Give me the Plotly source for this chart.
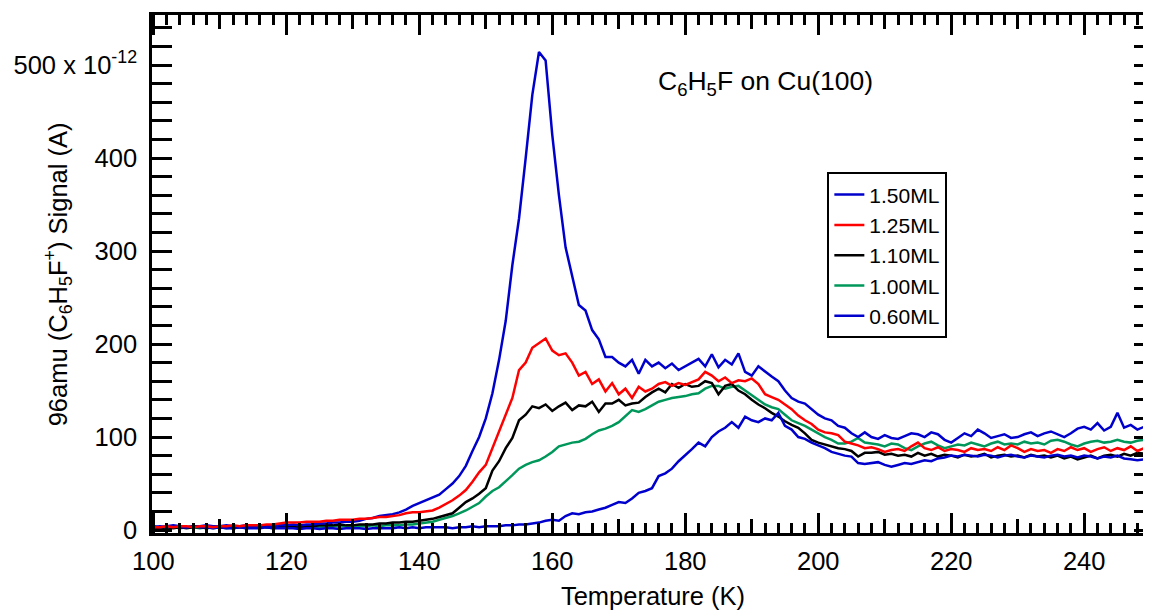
import plotly.graph_objects as go

temperature = list(range(100, 250))

s150 = [4,3,4,5,4,3,4,4,5,4,
        4,5,4,4,5,4,5,5,4,5,
        5,6,5,6,6,7,7,8,8,9,
        9,10,12,13,15,16,17,19,22,26,
        29,32,35,38,44,50,58,69,85,100,
        120,147,183,225,285,335,400,468,514,505,
        425,360,304,273,242,236,215,205,186,186,
        180,176,183,168,183,176,180,174,179,172,
        176,180,184,176,189,175,183,178,190,170,
        166,176,170,165,160,150,142,138,136,130,
        124,120,118,112,110,104,100,105,100,98,
        102,99,98,101,104,103,100,105,103,97,
        94,99,104,101,108,104,99,101,103,99,
        100,103,105,101,104,106,103,100,104,109,
        111,108,115,107,111,126,110,113,108,111]

s125 = [3,3,4,3,4,4,3,4,4,3,
        4,4,5,4,5,5,5,6,6,7,
        8,8,8,9,9,9,10,10,11,11,
        11,12,12,13,14,14,15,16,18,19,
        19,20,21,24,28,32,37,43,52,62,
        70,88,108,125,142,172,180,196,201,206,
        193,188,190,180,166,170,157,162,149,158,
        146,152,142,154,149,152,157,159,155,158,
        156,159,162,170,166,160,164,158,161,160,
        163,157,146,143,140,135,130,123,118,114,
        108,105,104,102,95,93,91,88,89,87,
        84,86,87,85,90,94,88,86,89,85,
        87,86,84,88,86,87,85,89,86,91,
        88,84,87,85,86,83,87,85,89,86,
        88,84,87,89,85,88,86,90,85,88]

s110 = [2,2,3,2,3,2,3,3,2,3,
        3,3,2,3,3,3,4,3,3,4,
        4,4,3,4,4,5,5,5,6,5,
        5,6,6,6,7,7,8,8,9,9,
        10,11,12,14,16,18,24,30,34,39,
        45,64,74,88,99,118,124,133,131,135,
        128,133,137,129,134,133,138,127,136,136,
        140,134,136,137,143,148,152,148,157,153,
        157,154,155,160,158,146,155,157,150,146,
        140,135,131,126,122,117,113,110,104,97,
        94,92,90,88,87,85,79,83,83,84,
        81,82,80,81,79,83,80,82,79,81,
        80,78,81,79,80,82,78,80,81,79,
        80,78,81,79,80,78,80,77,79,76,
        78,80,77,80,81,79,82,80,83,82]

s100 = [2,3,2,3,2,3,3,2,3,2,
        3,2,3,3,2,3,3,3,2,3,
        3,3,3,3,4,3,3,4,4,4,
        4,4,4,5,4,5,5,5,6,6,
        7,8,9,11,13,15,18,21,25,29,
        36,42,46,52,59,66,70,73,75,79,
        84,90,92,94,95,98,103,107,109,112,
        116,122,129,127,130,134,138,140,142,143,
        144,146,147,152,155,155,152,154,155,150,
        145,140,135,132,130,124,118,115,112,108,
        104,100,97,93,93,95,99,94,93,92,
        90,93,92,88,86,90,93,95,91,88,
        90,92,91,94,92,90,93,95,92,93,
        92,95,93,94,92,96,97,95,92,90,
        93,95,96,94,95,97,95,94,96,97]

s060 = [3,4,3,4,3,3,4,3,3,2,
        3,2,2,3,2,2,2,3,2,2,
        2,2,1,2,2,1,2,2,1,2,
        2,2,1,2,2,2,2,3,2,3,
        2,3,3,3,3,2,3,3,4,3,
        4,4,4,5,5,6,6,7,8,10,
        11,10,15,18,17,19,20,22,24,27,
        30,29,34,40,42,45,58,61,66,74,
        80,87,94,90,100,106,110,116,110,122,
        118,116,120,118,126,112,108,100,98,94,
        91,88,84,82,80,79,72,71,72,73,
        70,68,70,72,71,73,75,74,77,78,
        80,79,81,80,79,81,80,78,80,81,
        79,78,80,79,78,80,81,79,80,78,
        80,79,77,79,78,80,77,76,75,76]

series_names = ["1.50ML", "1.25ML", "1.10ML", "1.00ML", "0.60ML"]
series_values = [s150, s125, s110, s100, s060]
series_colors = ["#0000CD", "#FF0000", "#000000", "#00975A", "#0000CD"]
draw_order = [3, 2, 4, 0, 1]

x_major_ticks = list(range(100, 260, 20))
x_mid_ticks = list(range(110, 260, 20))
y_tick_vals = [0, 100, 200, 300, 400, 500]
y_tick_text = ["0", "100", "200", "300", "400", "500 x 10<sup>-12</sup>"]

FONT = "Liberation Sans, Arial, Helvetica, sans-serif"
FS = 25.5

fig = go.Figure()
for i in draw_order:
    fig.add_trace(go.Scatter(
        x=temperature, y=series_values[i], mode="lines",
        name=series_names[i], legendrank=i + 1,
        line=dict(color=series_colors[i], width=2.5),
    ))

fig.update_layout(
    width=1151, height=614,
    margin=dict(l=144, r=2, t=7, b=89),
    paper_bgcolor="white", plot_bgcolor="white",
    font=dict(family=FONT, size=FS, color="black"),
    showlegend=True,
    legend=dict(
        x=0.674, y=0.696, xanchor="left", yanchor="top",
        bordercolor="black", borderwidth=2, bgcolor="white",
        font=dict(size=21, family=FONT),
    ),
    xaxis=dict(
        range=[99.8, 250.5], tickvals=x_major_ticks,
        ticks="inside", ticklen=20, tickwidth=2.5, tickcolor="black",
        showline=True, linewidth=2.5, linecolor="black", mirror="allticks",
        showgrid=False, zeroline=False, ticklabelstandoff=4,
        minor=dict(dtick=2, tick0=100, ticks="inside", ticklen=10, tickwidth=2.5, tickcolor="black", showgrid=False),
        title=dict(text="Temperature (K)", font=dict(size=FS), standoff=13),
        tickfont=dict(size=FS),
    ),
    xaxis2=dict(
        overlaying="x", matches="x", anchor="y", side="bottom",
        tickvals=x_mid_ticks, ticks="inside", ticklen=14, tickwidth=2.5, tickcolor="black",
        showticklabels=False, showline=False, mirror="ticks", showgrid=False, zeroline=False,
    ),
    yaxis=dict(
        range=[-3.2, 553.8], tickvals=y_tick_vals, ticktext=y_tick_text,
        ticks="inside", ticklen=20, tickwidth=2.5, tickcolor="black",
        showline=True, linewidth=2.5, linecolor="black", mirror="allticks",
        showgrid=False, zeroline=False, ticklabelstandoff=7,
        minor=dict(dtick=20, tick0=0, ticks="inside", ticklen=11, tickwidth=2.5, tickcolor="black", showgrid=False),
        tickfont=dict(size=FS),
    ),
    annotations=[
        dict(text="C<sub>6</sub>H<sub>5</sub>F on Cu(100)", xref="paper", yref="paper",
             x=0.612, y=0.869, xanchor="center", yanchor="middle", showarrow=False,
             font=dict(size=26.5)),
        dict(text="96amu (C<sub>6</sub>H<sub>5</sub>F<sup>+</sup>) Signal (A)", xref="paper", yref="paper",
             x=-0.0935, y=0.5, xanchor="center", yanchor="middle", textangle=-90, showarrow=False,
             font=dict(size=FS)),
    ],
)
# empty trace so the overlaying axis (10 K ticks) is drawn
fig.add_trace(go.Scatter(x=[None], y=[None], xaxis="x2", showlegend=False, hoverinfo="skip"))

fig.write_html("out.html")
